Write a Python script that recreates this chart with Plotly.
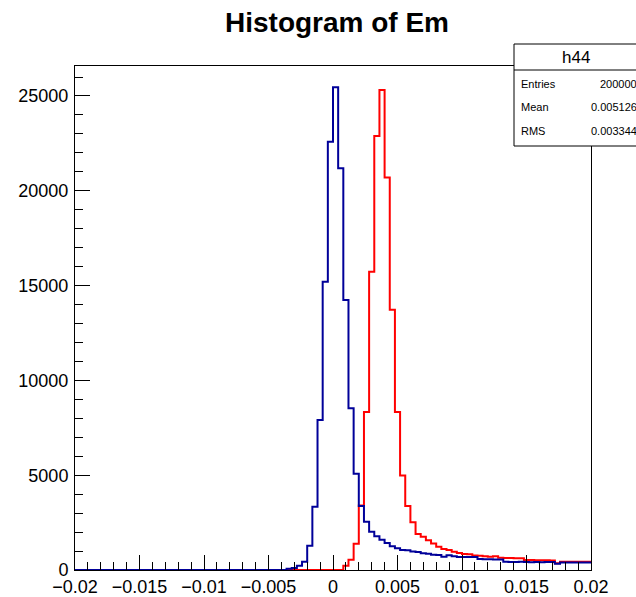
import plotly.graph_objects as go

# Binning of h44: 100 bins of width 0.0004 on [-0.02, 0.02]
x_min = -0.02
x_max = 0.02
n_bins = 100

# Bin contents, first drawn histogram (red, carries the stats box)
red_counts = [
    0, 0, 0, 0, 0, 0, 0, 0, 0, 0,
    0, 0, 0, 0, 0, 0, 0, 0, 0, 0,
    0, 0, 0, 0, 0, 0, 0, 0, 0, 0,
    0, 0, 0, 0, 0, 0, 0, 0, 0, 0,
    0, 0, 0, 0, 0, 0, 0, 0, 0, 0,
    0, 0, 230, 540, 1390, 3400, 8330, 15730, 22890, 25316,
    20700, 13730, 8330, 4990, 3380, 2520, 1900, 1750, 1570, 1400,
    1230, 1110, 1055, 965, 890, 850, 825, 770, 755, 720,
    700, 720, 640, 630, 630, 620, 620, 530, 530, 520,
    520, 520, 500, 350, 430, 430, 440, 440, 440, 440,
]

# Bin contents, second histogram drawn with "same" (blue)
blue_counts = [
    0, 0, 0, 0, 0, 0, 0, 0, 0, 0,
    0, 0, 0, 0, 0, 0, 0, 0, 0, 0,
    0, 0, 0, 0, 0, 0, 0, 0, 0, 0,
    0, 0, 0, 0, 0, 0, 0, 0, 0, 0,
    0, 60, 100, 230, 430, 1280, 3340, 7910, 15200, 22590,
    25460, 21190, 14240, 8530, 5080, 3380, 2540, 2020, 1780, 1600,
    1420, 1250, 1150, 1060, 1040, 970, 950, 880, 860, 800,
    790, 700, 780, 720, 690, 690, 680, 680, 580, 570,
    570, 560, 550, 430, 420, 420, 430, 420, 410, 420,
    410, 420, 420, 330, 390, 390, 400, 390, 390, 390,
]

title_text = "Histogram of Em"
stats_name = "h44"
stats_labels = ["Entries", "Mean", "RMS"]
stats_values = ["200000", "0.005126", "0.003344"]

bin_w = (x_max - x_min) / n_bins
edges = [x_min + k * bin_w for k in range(n_bins + 1)]


def step_y(counts):
    return list(counts) + [counts[-1]]


FONT = "Liberation Sans, Arial, Helvetica, sans-serif"

fig = go.Figure()
fig.add_trace(go.Scatter(
    x=edges, y=step_y(red_counts), mode="lines", line_shape="hv",
    line=dict(color="#ff0000", width=2), showlegend=False, hoverinfo="skip",
))
fig.add_trace(go.Scatter(
    x=edges, y=step_y(blue_counts), mode="lines", line_shape="hv",
    line=dict(color="#000099", width=2), showlegend=False, hoverinfo="skip",
))

# Plot frame geometry (pixels)
W, H = 636, 597
L, R, T, B = 75, 591, 66, 570
pw, ph = R - L, B - T


def px(x):
    return (x - L) / pw


def py(y):
    return (B - y) / ph


axis_common = dict(
    showline=True, linecolor="black", linewidth=1, mirror=True,
    ticks="inside", tickcolor="black", tickwidth=1, ticklen=15,
    showgrid=False, zeroline=False, automargin=False,
    tickfont=dict(family=FONT, size=18, color="black"),
)

fig.update_xaxes(
    range=[x_min, x_max], tick0=x_min, dtick=0.005,
    minor=dict(ticks="inside", ticklen=8, tickcolor="black", dtick=0.001, tick0=x_min, showgrid=False),
    **axis_common,
)
fig.update_yaxes(
    range=[0, 26580], tick0=0, dtick=5000, tickformat="d",
    ticklabelstandoff=2,
    minor=dict(ticks="inside", ticklen=8, tickcolor="black", dtick=1000, tick0=0, showgrid=False),
    **axis_common,
)

# Stats box
bx0, bx1, by0, by1, bsep = 514, 645, 44, 146, 70
fig.add_shape(type="rect", xref="paper", yref="paper",
              x0=px(bx0), x1=px(bx1), y0=py(by1), y1=py(by0),
              line=dict(color="black", width=1), fillcolor="white", layer="above")
fig.add_shape(type="line", xref="paper", yref="paper",
              x0=px(bx0), x1=px(bx1), y0=py(bsep), y1=py(bsep),
              line=dict(color="black", width=1), layer="above")

annotations = [
    dict(text=stats_name, x=px(576), y=py(57), xref="paper", yref="paper",
         xanchor="center", yanchor="middle", showarrow=False,
         font=dict(family=FONT, size=17, color="black")),
]
row_y = [84, 107, 131]
for lab, val, yy in zip(stats_labels, stats_values, row_y):
    annotations.append(dict(text=lab, x=px(519), y=py(yy), xref="paper", yref="paper",
                            xanchor="left", yanchor="middle", showarrow=False,
                            font=dict(family=FONT, size=11, color="black")))
    annotations.append(dict(text=val, x=px(639), y=py(yy), xref="paper", yref="paper",
                            xanchor="right", yanchor="middle", showarrow=False,
                            font=dict(family=FONT, size=11, color="black")))

fig.update_layout(
    width=W, height=H,
    margin=dict(l=L, r=W - R, t=T, b=H - B, pad=0, autoexpand=False),
    paper_bgcolor="white", plot_bgcolor="white",
    title=dict(text="<b>" + title_text + "</b>", x=337 / W, y=1 - 22 / H,
               xanchor="center", yanchor="middle", xref="container", yref="container",
               font=dict(family=FONT, size=28, color="black")),
    annotations=annotations,
    showlegend=False,
)

fig.write_html("out.html")
